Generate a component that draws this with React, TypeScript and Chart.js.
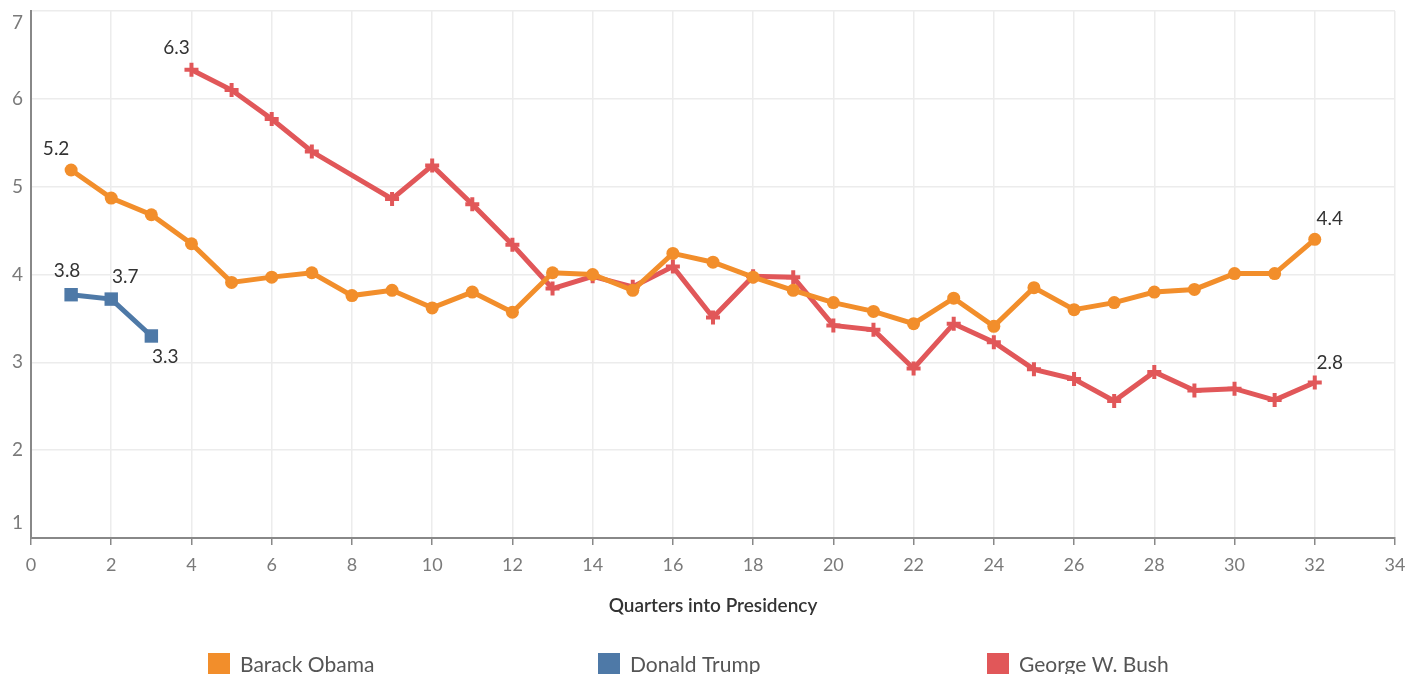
import React, { useEffect, useRef } from "react";
import { Chart, registerables } from "chart.js";

Chart.register(...registerables);

// ---- Data ----
const seriesNames = ["Barack Obama", "Donald Trump", "George W. Bush"];
const seriesColors = ["#F28E2B", "#4E79A7", "#E15759"];

const obamaQuarters = [1, 2, 3, 4, 5, 6, 7, 8, 9, 10, 11, 12, 13, 14, 15, 16, 17, 18, 19, 20, 21, 22, 23, 24, 25, 26, 27, 28, 29, 30, 31, 32];
const obamaValues = [5.19, 4.87, 4.68, 4.35, 3.91, 3.97, 4.02, 3.76, 3.82, 3.62, 3.8, 3.57, 4.02, 4.0, 3.82, 4.24, 4.14, 3.97, 3.82, 3.68, 3.58, 3.44, 3.73, 3.41, 3.85, 3.6, 3.68, 3.8, 3.83, 4.01, 4.01, 4.4];

const trumpQuarters = [1, 2, 3];
const trumpValues = [3.77, 3.72, 3.3];

const bushQuarters = [4, 5, 6, 7, 9, 10, 11, 12, 13, 14, 15, 16, 17, 18, 19, 20, 21, 22, 23, 24, 25, 26, 27, 28, 29, 30, 31, 32];
const bushValues = [6.33, 6.1, 5.77, 5.4, 4.86, 5.24, 4.8, 4.34, 3.84, 3.98, 3.86, 4.09, 3.51, 3.98, 3.97, 3.42, 3.37, 2.93, 3.44, 3.23, 2.92, 2.81, 2.56, 2.89, 2.68, 2.7, 2.57, 2.77];

const xMin = 0;
const xMax = 34;
const xStep = 2;
const yMin = 1;
const yMax = 7;
const yStep = 1;
const xTitle = "Quarters into Presidency";

// which points carry value labels (dataset index, point index, offset)
const valueLabels = [
  { ds: 0, idx: 0, dx: -15, dy: -21 },
  { ds: 0, idx: obamaValues.length - 1, dx: 15, dy: -20 },
  { ds: 1, idx: 0, dx: -4, dy: -24 },
  { ds: 1, idx: 1, dx: 14, dy: -22 },
  { ds: 1, idx: 2, dx: 14, dy: 21 },
  { ds: 2, idx: 0, dx: -15, dy: -22 },
  { ds: 2, idx: bushValues.length - 1, dx: 15, dy: -20 },
];

const FONT = "Lato, 'Open Sans', 'Noto Sans', sans-serif";

const toPoints = (xs: number[], ys: number[]) => xs.map((x, i) => ({ x, y: ys[i] }));

const overlayPlugin = {
  id: "overlay",
  afterDatasetsDraw(chart: any) {
    const ctx = chart.ctx;
    ctx.save();
    ctx.font = `19px ${FONT}`;
    ctx.fillStyle = "#333333";
    ctx.textAlign = "center";
    ctx.textBaseline = "middle";
    valueLabels.forEach((l) => {
      const meta = chart.getDatasetMeta(l.ds);
      const el = meta.data[l.idx];
      const v = chart.data.datasets[l.ds].data[l.idx].y;
      if (el) ctx.fillText(v.toFixed(1), el.x + l.dx, el.y + l.dy);
    });
    ctx.restore();
  },
  afterDraw(chart: any) {
    const ctx = chart.ctx;
    const area = chart.chartArea;
    ctx.save();
    // y tick labels (kept inside the plot height like the original)
    const ys = chart.scales.y;
    ctx.font = `19px ${FONT}`;
    ctx.fillStyle = "#7a7a7a";
    ctx.textAlign = "right";
    ctx.textBaseline = "middle";
    ys.ticks.forEach((t: any) => {
      const py = ys.getPixelForValue(t.value);
      const cy = Math.min(Math.max(py, area.top + 12), area.bottom - 15);
      ctx.fillText(String(t.value), 23, cy);
    });
    // axis title
    ctx.font = `600 19px ${FONT}`;
    ctx.fillStyle = "#333333";
    ctx.textAlign = "center";
    ctx.fillText(xTitle, (area.left + area.right) / 2, 606);
    // legend
    const legendX = [208, 598, 987];
    ctx.font = `21px ${FONT}`;
    ctx.textAlign = "left";
    seriesNames.forEach((name, i) => {
      ctx.fillStyle = seriesColors[i];
      ctx.fillRect(legendX[i], 653, 22, 22);
      ctx.fillStyle = "#555555";
      ctx.fillText(name, legendX[i] + 32, 665);
    });
    ctx.restore();
  },
};

export default function App() {
  const canvasRef = useRef<HTMLCanvasElement | null>(null);

  useEffect(() => {
    if (!canvasRef.current) return;
    const chart = new Chart(canvasRef.current, {
      type: "line",
      data: {
        datasets: [
          {
            label: seriesNames[0],
            data: toPoints(obamaQuarters, obamaValues),
            borderColor: seriesColors[0],
            backgroundColor: seriesColors[0],
            borderWidth: 5,
            pointStyle: "circle",
            pointRadius: 6.5,
            pointBorderWidth: 0,
            pointBackgroundColor: seriesColors[0],
          },
          {
            label: seriesNames[1],
            data: toPoints(trumpQuarters, trumpValues),
            borderColor: seriesColors[1],
            backgroundColor: seriesColors[1],
            borderWidth: 5,
            pointStyle: "rect",
            pointRadius: 9.5,
            pointBorderWidth: 0,
            pointBackgroundColor: seriesColors[1],
          },
          {
            label: seriesNames[2],
            data: toPoints(bushQuarters, bushValues),
            borderColor: seriesColors[2],
            backgroundColor: seriesColors[2],
            borderWidth: 5,
            pointStyle: "cross",
            pointRadius: 7,
            pointBorderWidth: 4,
            pointBorderColor: seriesColors[2],
          },
        ],
      },
      options: {
        responsive: false,
        animation: false,
        layout: { padding: { top: 10, right: 13, left: 0, bottom: 0 } },
        plugins: {
          legend: { display: false },
          tooltip: { enabled: false },
        },
        scales: {
          x: {
            type: "linear",
            min: xMin,
            max: xMax,
            ticks: {
              stepSize: xStep,
              color: "#7a7a7a",
              font: { family: FONT, size: 18 },
              padding: 9,
              maxRotation: 0,
            },
            grid: {
              color: "#ececec",
              lineWidth: 1.5,
              drawTicks: true,
              tickLength: 7,
              tickColor: "#888888",
              tickWidth: 1.5,
            },
            border: { color: "#888888", width: 2 },
            afterFit: (s: any) => {
              s.height = 136;
              s.paddingLeft = 0;
              s.paddingRight = 0;
            },
          },
          y: {
            min: yMin,
            max: yMax,
            ticks: {
              stepSize: yStep,
              color: "#7a7a7a",
              font: { family: FONT, size: 19 },
              padding: 9,
              callback: () => "",
            },
            grid: {
              color: "#ececec",
              lineWidth: 1.5,
              drawTicks: false,
            },
            border: { color: "#888888", width: 2 },
            afterFit: (s: any) => {
              s.width = 31;
              s.paddingTop = 0;
              s.paddingBottom = 0;
            },
          },
        },
      },
      plugins: [overlayPlugin],
    });
    return () => chart.destroy();
  }, []);

  return (
    <div style={{ position: "fixed", left: 0, top: 0, width: 1408, height: 674, background: "#ffffff" }}>
      <canvas ref={canvasRef} width={1408} height={674} style={{ display: "block" }} />
    </div>
  );
}
